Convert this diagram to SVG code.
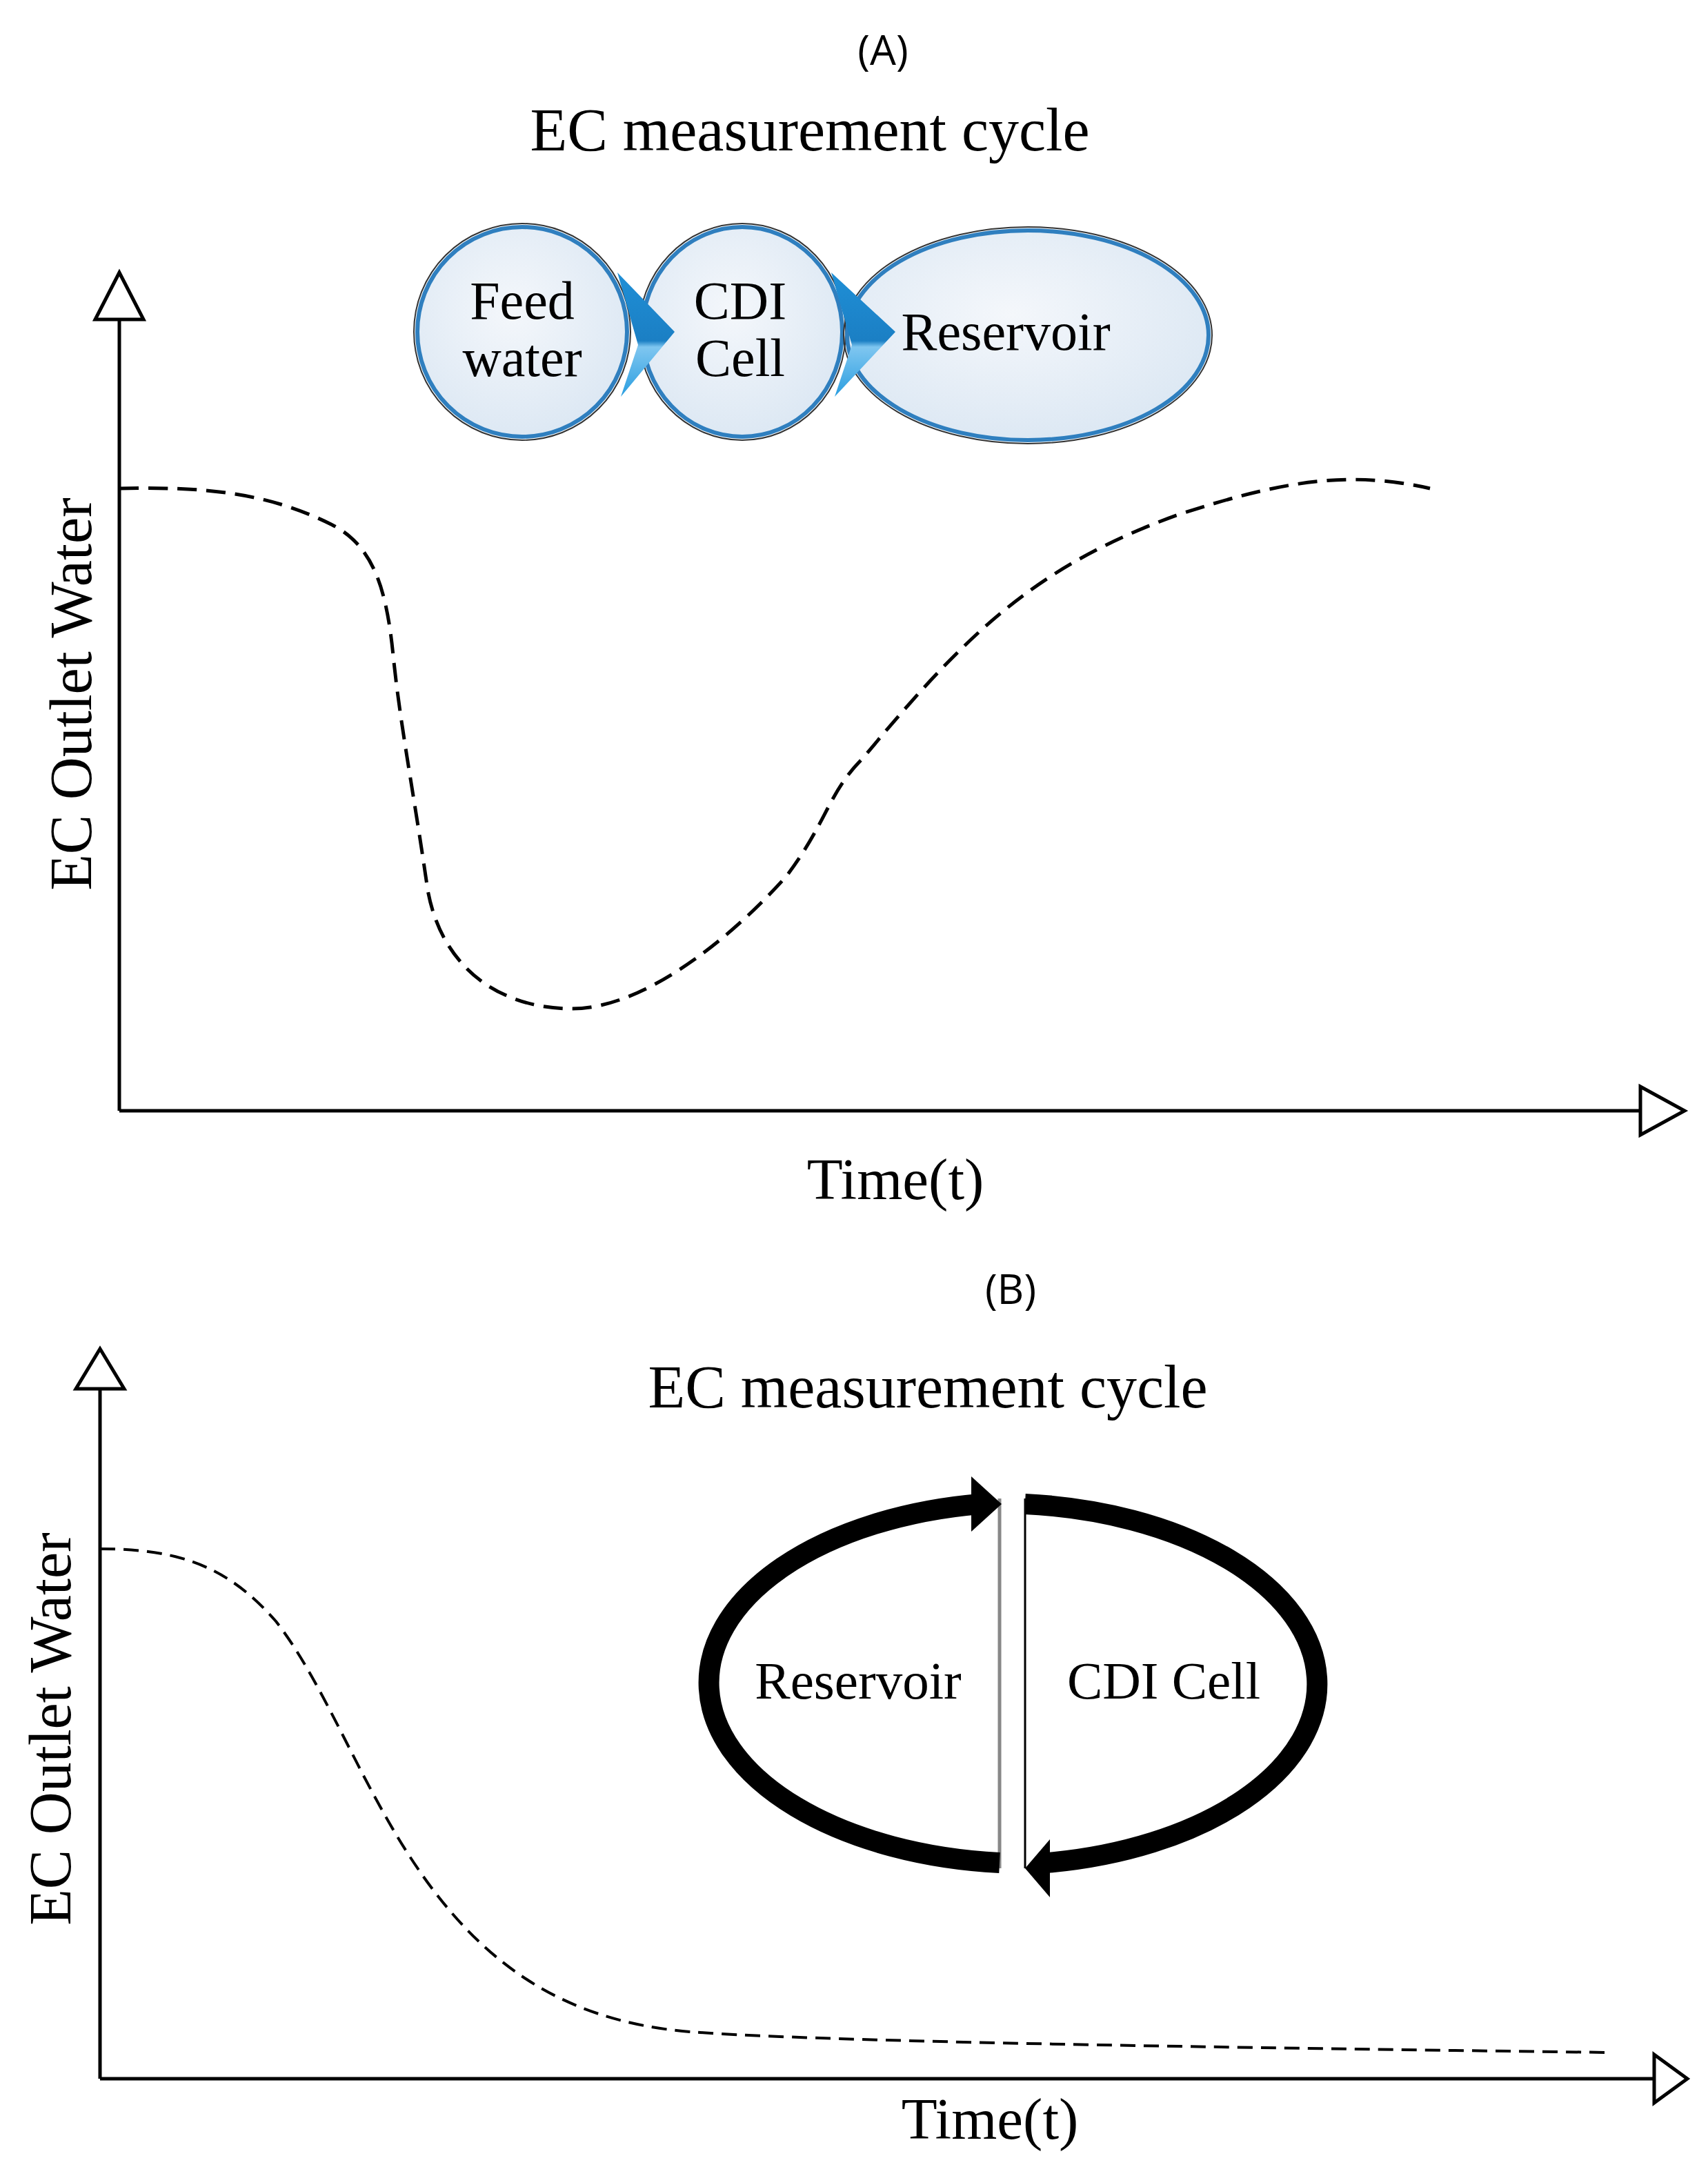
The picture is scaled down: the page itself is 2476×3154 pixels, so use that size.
<svg xmlns="http://www.w3.org/2000/svg" width="2476" height="3154" viewBox="0 0 2476 3154">
<defs>
<radialGradient id="bub" cx="0.45" cy="0.4" r="0.65"><stop offset="0" stop-color="#f4f7fb"/><stop offset="1" stop-color="#dbe7f3"/></radialGradient>
<linearGradient id="wedge" x1="0" y1="0" x2="0" y2="1"><stop offset="0" stop-color="#1f8fd6"/><stop offset="0.55" stop-color="#1b7fc4"/><stop offset="0.6" stop-color="#7fc6f0"/><stop offset="1" stop-color="#2a9ee0"/></linearGradient>
<style>
.s{font-family:"Liberation Serif",serif;fill:#000;text-anchor:middle}
.sa{font-family:"Open Sans","Liberation Sans",sans-serif;fill:#000;text-anchor:middle;font-size:60px}
.ax{stroke:#000;stroke-width:5;fill:none}
.tri{fill:#fff;stroke:#000;stroke-width:5}
.bub{fill:url(#bub);stroke:#2f7fbf;stroke-width:6}
.bubo{fill:none;stroke:#333;stroke-width:2}
.cyc{fill:none;stroke:#000;stroke-width:30}
</style>
</defs>
<rect width="2476" height="3154" fill="#fff"/>
<text class="sa" x="1280" y="94">(A)</text>
<text class="s" x="1174" y="218" font-size="88">EC measurement cycle</text>
<g id="axesA">
<line class="ax" x1="173" y1="460" x2="173" y2="1610"/>
<line class="ax" x1="173" y1="1610" x2="2378" y2="1610"/>
<polygon class="tri" points="173,395 138,463 208,463"/>
<polygon class="tri" points="2378,1575 2442,1610 2378,1645"/>
</g>
<text class="s" font-size="86" transform="translate(132,1006) rotate(-90)">EC Outlet Water</text>
<text class="s" x="1298" y="1738" font-size="85">Time(t)</text>
<g id="feed"><ellipse class="bub" cx="757" cy="481" rx="152" ry="152"/><ellipse class="bubo" cx="757" cy="481" rx="157" ry="157"/>
<text class="s" x="757" y="462" font-size="78">Feed</text><text class="s" x="757" y="545" font-size="78">water</text></g>
<g id="cdi"><ellipse class="bub" cx="1076" cy="481" rx="145" ry="152"/><ellipse class="bubo" cx="1076" cy="481" rx="150" ry="157"/>
<text class="s" x="1073" y="462" font-size="78">CDI</text><text class="s" x="1073" y="545" font-size="78">Cell</text></g>
<g id="res"><ellipse class="bub" cx="1490" cy="486" rx="262" ry="152"/><ellipse class="bubo" cx="1490" cy="486" rx="267" ry="157"/>
<text class="s" x="1458" y="507" font-size="78">Reservoir</text></g>
<g id="connectors">
<polygon points="895,395 978,481 900,575 925,500" fill="url(#wedge)"/>
<polygon points="1205,395 1298,481 1210,575 1235,500" fill="url(#wedge)"/>
<line x1="1449" y1="2172" x2="1449" y2="2708" stroke="#888" stroke-width="5"/>
<line x1="1486" y1="2172" x2="1486" y2="2708" stroke="#000" stroke-width="3"/>
<path class="cyc" d="M1449,2700 A462,262 0 0 1 1420,2180"/>
<polygon points="1408,2140 1452,2180 1408,2220"/>
<path class="cyc" d="M1486,2180 A462,262 0 0 1 1518,2700"/>
<polygon points="1522,2666 1486,2708 1522,2750"/>
</g>
<path d="M173,708 C300,705 390,715 480,760 C540,790 560,850 570,950 C580,1050 600,1150 620,1290 C640,1400 720,1460 825,1462 C930,1465 1060,1360 1140,1270 C1200,1190 1200,1150 1250,1100 C1400,920 1500,820 1711,745 C1850,700 1950,680 2073,708" fill="none" stroke="#000" stroke-width="5" stroke-dasharray="28,14"/>
<text class="sa" x="1465" y="1890">(B)</text>
<text class="s" x="1345" y="2040" font-size="88">EC measurement cycle</text>
<g id="axesB">
<line class="ax" x1="145" y1="2010" x2="145" y2="3013"/>
<line class="ax" x1="145" y1="3013" x2="2398" y2="3013"/>
<polygon class="tri" points="145,1955 110,2013 180,2013"/>
<polygon class="tri" points="2398,2978 2446,3013 2398,3048"/>
</g>
<text class="s" font-size="86" transform="translate(102,2506) rotate(-90)">EC Outlet Water</text>
<text class="s" x="1435" y="3100" font-size="85">Time(t)</text>
<g id="cycle">
<text class="s" x="1244" y="2462" font-size="77">Reservoir</text>
<text class="s" x="1687" y="2462" font-size="77">CDI Cell</text>
</g>
<path d="M145,2245 C260,2245 330,2270 400,2350 C470,2440 520,2580 600,2700 C700,2850 820,2930 1000,2945 C1200,2960 1800,2968 2335,2975" fill="none" stroke="#000" stroke-width="4" stroke-dasharray="22,12"/>
</svg>
